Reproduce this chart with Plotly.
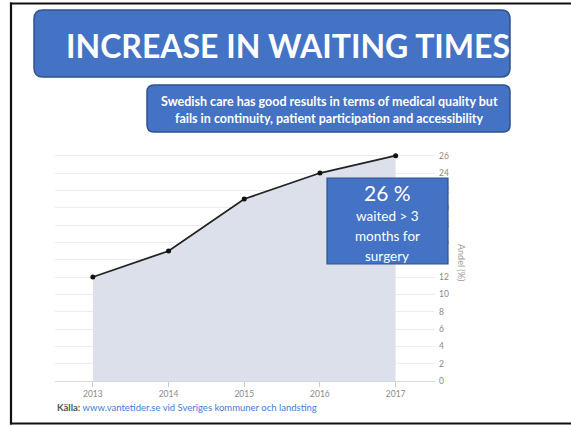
import plotly.graph_objects as go

# Share of patients waiting more than 3 months for surgery
years = [2013, 2014, 2015, 2016, 2017]
share_pct = [12, 15, 21, 24, 26]
y_ticks = list(range(0, 27, 2))

title_text = "INCREASE IN WAITING TIMES"
subtitle_lines = [
    "Swedish care has good results in terms of medical quality but",
    "fails in continuity, patient participation and accessibility",
]
callout_value = "26 %"
callout_lines = ["waited > 3", "months for", "surgery"]

W, H = 571, 426
L, R, T, B = 55, 435, 147, 381  # plot area in pixels


def px(x):
    return (x - L) / (R - L)


def py(y):
    return (B - y) / (B - T)


def rounded_rect(x0, y0, x1, y1, r):
    """SVG path (paper coords) for a rounded rectangle given in pixels."""
    pts = [
        f"M {px(x0 + r)},{py(y0)}",
        f"L {px(x1 - r)},{py(y0)}",
        f"Q {px(x1)},{py(y0)} {px(x1)},{py(y0 + r)}",
        f"L {px(x1)},{py(y1 - r)}",
        f"Q {px(x1)},{py(y1)} {px(x1 - r)},{py(y1)}",
        f"L {px(x0 + r)},{py(y1)}",
        f"Q {px(x0)},{py(y1)} {px(x0)},{py(y1 - r)}",
        f"L {px(x0)},{py(y0 + r)}",
        f"Q {px(x0)},{py(y0)} {px(x0 + r)},{py(y0)}",
        "Z",
    ]
    return " ".join(pts)


BLUE = "#4472C4"
BLUE_EDGE = "#2F528F"
FONT = "Lato"

fig = go.Figure()
fig.add_trace(go.Scatter(
    x=years, y=share_pct,
    mode="lines+markers",
    line=dict(color="#222222", width=1.8),
    marker=dict(color="#111111", size=5),
    fill="tozeroy",
    fillcolor="#dce0eb",
    hoverinfo="skip",
))

frame = dict(color="#111111", width=2.2)
shapes = [
    # slide frame (top, left, bottom edges)
    dict(type="line", xref="paper", yref="paper",
         x0=px(10), x1=px(571), y0=py(3.5), y1=py(3.5), line=frame, layer="above"),
    dict(type="line", xref="paper", yref="paper",
         x0=px(11), x1=px(11), y0=py(2.5), y1=py(424.5), line=frame, layer="above"),
    dict(type="line", xref="paper", yref="paper",
         x0=px(10), x1=px(571), y0=py(423.5), y1=py(423.5), line=frame, layer="above"),
    # title banner
    dict(type="path", xref="paper", yref="paper",
         path=rounded_rect(34, 10, 510, 77, 9),
         fillcolor=BLUE, line=dict(color=BLUE_EDGE, width=1.5), layer="above"),
    # subtitle banner
    dict(type="path", xref="paper", yref="paper",
         path=rounded_rect(147, 85, 510, 132, 7),
         fillcolor=BLUE, line=dict(color=BLUE_EDGE, width=1.5), layer="above"),
    # callout box
    dict(type="rect", xref="paper", yref="paper",
         x0=px(327), x1=px(448), y0=py(178), y1=py(264),
         fillcolor=BLUE, line=dict(color=BLUE_EDGE, width=1.2), layer="above"),
]

annotations = [
    dict(text=f"<b>{title_text}</b>", x=px(288), y=py(45), xref="paper", yref="paper",
         showarrow=False, font=dict(family=FONT, size=32, color="white"),
         xanchor="center", yanchor="middle"),
    dict(text=f"<b>{subtitle_lines[0]}</b>", x=px(329), y=py(101), xref="paper", yref="paper",
         showarrow=False, font=dict(family=FONT, size=12.5, color="white"),
         xanchor="center", yanchor="middle"),
    dict(text=f"<b>{subtitle_lines[1]}</b>", x=px(329), y=py(118), xref="paper", yref="paper",
         showarrow=False, font=dict(family=FONT, size=12.5, color="white"),
         xanchor="center", yanchor="middle"),
    dict(text=callout_value, x=px(387), y=py(192), xref="paper", yref="paper",
         showarrow=False, font=dict(family=FONT, size=21, color="white"),
         xanchor="center", yanchor="middle"),
    dict(text=callout_lines[0], x=px(387), y=py(216), xref="paper", yref="paper",
         showarrow=False, font=dict(family=FONT, size=13.5, color="white"),
         xanchor="center", yanchor="middle"),
    dict(text=callout_lines[1], x=px(387), y=py(236), xref="paper", yref="paper",
         showarrow=False, font=dict(family=FONT, size=13.5, color="white"),
         xanchor="center", yanchor="middle"),
    dict(text=callout_lines[2], x=px(387), y=py(256), xref="paper", yref="paper",
         showarrow=False, font=dict(family=FONT, size=13.5, color="white"),
         xanchor="center", yanchor="middle"),
    # vertical axis title
    dict(text="Andel (%)", x=px(462), y=py(262), xref="paper", yref="paper",
         showarrow=False, textangle=90, font=dict(family=FONT, size=9, color="#9a9a9a"),
         xanchor="center", yanchor="middle"),
    # source line
    dict(text="<b>Källa:</b> <span style='color:#3d7fd9'>www.vantetider.se vid Sveriges kommuner och landsting</span>",
         x=px(55), y=py(407), xref="paper", yref="paper",
         showarrow=False, font=dict(family=FONT, size=9.5, color="#555555"),
         xanchor="left", yanchor="middle"),
]

fig.update_layout(
    width=W, height=H,
    margin=dict(l=L, r=W - R, t=T, b=H - B, pad=0),
    paper_bgcolor="white", plot_bgcolor="white",
    showlegend=False,
    shapes=shapes,
    annotations=annotations,
    xaxis=dict(
        range=[2012.5, 2017.52], tickmode="array", tickvals=years,
        ticktext=[str(y) for y in years],
        showgrid=False, zeroline=False, showline=False,
        ticks="outside", ticklen=5, tickcolor="#cccccc",
        tickfont=dict(family=FONT, size=8.5, color="#8a8a8a"),
        fixedrange=True,
    ),
    yaxis=dict(
        range=[0, 27], side="right", tickmode="array", tickvals=y_ticks,
        showgrid=True, gridcolor="#ececec", gridwidth=1,
        zeroline=True, zerolinecolor="#d8d8d8", zerolinewidth=1,
        showline=False, ticks="", ticklabelstandoff=3,
        tickfont=dict(family=FONT, size=8.5, color="#8a8a8a"),
        fixedrange=True,
    ),
)

fig.write_html("out.html")
